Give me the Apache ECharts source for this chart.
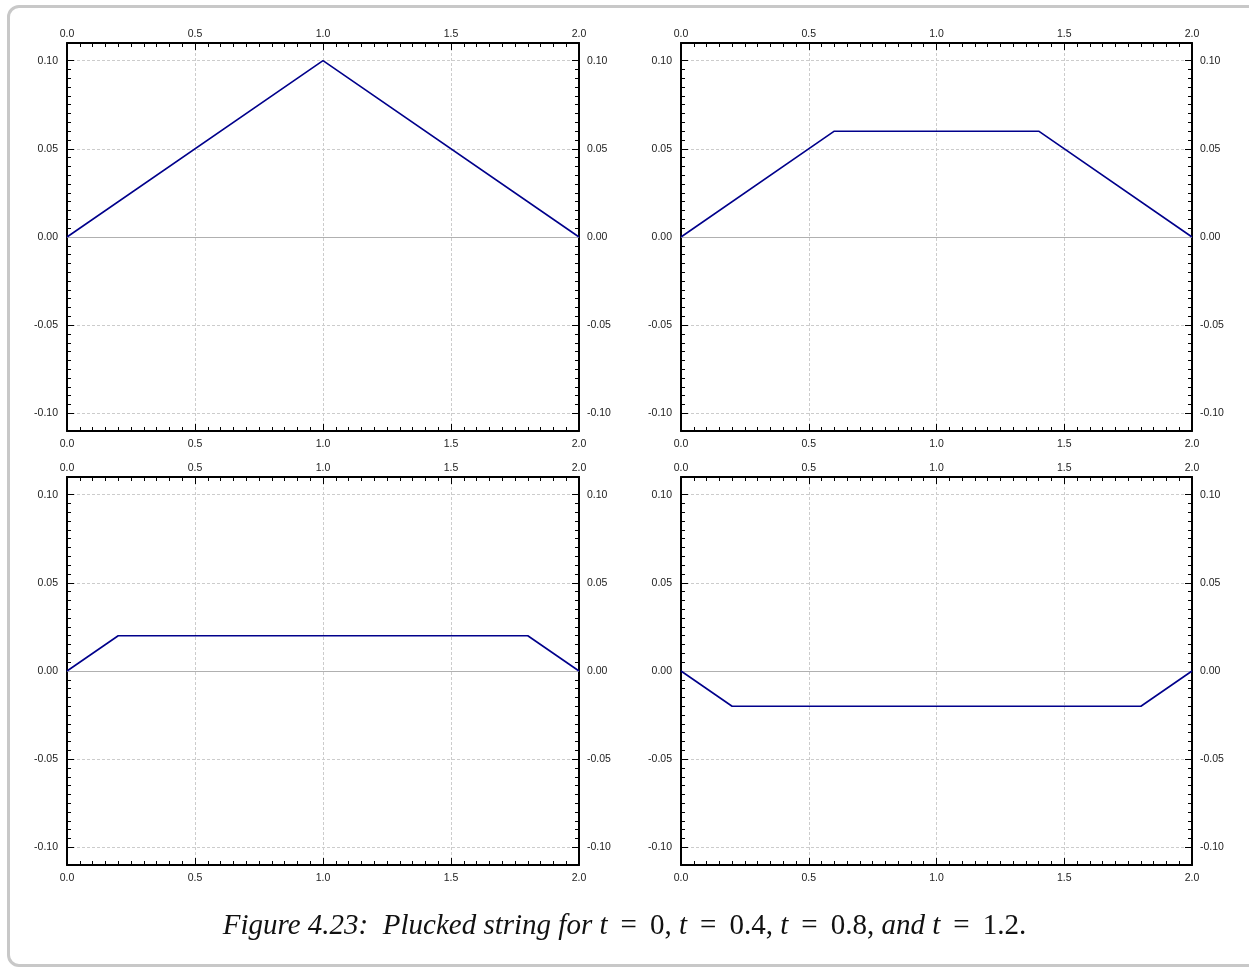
<!DOCTYPE html>
<html>
<head>
<meta charset="utf-8">
<script src="https://cdn.jsdelivr.net/npm/echarts@6/dist/echarts.min.js"></script>
<style>
html,body{margin:0;padding:0;background:#fff;width:1249px;height:968px;overflow:hidden;}
#frame{position:absolute;left:7px;top:5px;width:1260px;height:962px;border:3px solid #c8c8c8;border-radius:12px;box-sizing:border-box;}
#chart{position:absolute;left:0;top:0;width:1249px;height:968px;}
</style>
</head>
<body>
<div id="frame"></div>
<div id="chart"></div>
<script>
// Data: string displacement at x positions for each time
const xT0 = [0, 1, 2];
const yT0 = [0, 0.1, 0];
const xT04 = [0, 0.6, 1.4, 2];
const yT04 = [0, 0.06, 0.06, 0];
const xT08 = [0, 0.2, 1.8, 2];
const yT08 = [0, 0.02, 0.02, 0];
const xT12 = [0, 0.2, 1.8, 2];
const yT12 = [0, -0.02, -0.02, 0];

const yMajorTicks = [-0.10, -0.05, 0.00, 0.05, 0.10];
const yMinorTicks = [-0.095, -0.09, -0.085, -0.08, -0.075, -0.07, -0.065, -0.06, -0.055,
  -0.045, -0.04, -0.035, -0.03, -0.025, -0.02, -0.015, -0.01, -0.005,
  0.005, 0.01, 0.015, 0.02, 0.025, 0.03, 0.035, 0.04, 0.045,
  0.055, 0.06, 0.065, 0.07, 0.075, 0.08, 0.085, 0.09, 0.095];
const xMin = 0, xMax = 2, xInterval = 0.5;
const yMin = -0.11, yMax = 0.11;

const panels = [
  {xs: xT0, ys: yT0},
  {xs: xT04, ys: yT04},
  {xs: xT08, ys: yT08},
  {xs: xT12, ys: yT12}
];

const gridBoxes = [
  {left: 67, top: 43, width: 512, height: 388},
  {left: 681, top: 43, width: 511, height: 388},
  {left: 67, top: 477, width: 512, height: 388},
  {left: 681, top: 477, width: 511, height: 388}
];

const labelStyle = {fontFamily: 'Liberation Sans, Arial, sans-serif', fontSize: 10.5, color: '#222'};
const axisLine = {show: true, onZero: false, lineStyle: {color: '#000', width: 2}};
const splitDashed = {show: true, lineStyle: {color: '#cccccc', type: [3, 2], width: 1}};

const grid = [], xAxis = [], yAxis = [], series = [];
gridBoxes.forEach((b, g) => {
  // main grid index 2g, overlay grid (minor y ticks) index 2g+1
  grid.push(Object.assign({outerBoundsMode: 'none', containLabel: false}, b));
  grid.push(Object.assign({outerBoundsMode: 'none', containLabel: false}, b));
  const gm = 2 * g, go = 2 * g + 1;
  ['bottom', 'top'].forEach((pos, k) => {
    xAxis.push({
      type: 'value', gridIndex: gm, position: pos, min: xMin, max: xMax, interval: xInterval,
      axisLine: axisLine,
      axisTick: {show: true, inside: true, length: 7, lineStyle: {color: '#000', width: 1}},
      minorTick: {show: true, splitNumber: 10, length: 4, lineStyle: {color: '#000', width: 1}},
      axisLabel: Object.assign({show: true, margin: k === 0 ? 8 : 3, formatter: v => v.toFixed(1)}, labelStyle),
      splitLine: k === 0 ? splitDashed : {show: false},
      minorSplitLine: {show: false}
    });
  });
  ['left', 'right'].forEach((pos, k) => {
    yAxis.push({
      type: 'value', gridIndex: gm, position: pos, min: yMin, max: yMax,
      axisLine: axisLine,
      axisTick: {show: true, inside: true, length: 7, customValues: yMajorTicks, lineStyle: {color: '#000', width: 1}},
      axisLabel: Object.assign({show: true, margin: k === 0 ? 9 : 8, customValues: yMajorTicks, formatter: v => v.toFixed(2)}, labelStyle),
      splitLine: k === 0 ? splitDashed : {show: false}
    });
  });
  // overlay grid axes
  xAxis.push({type: 'value', gridIndex: go, min: xMin, max: xMax, show: false});
  ['left', 'right'].forEach((pos) => {
    yAxis.push({
      type: 'value', gridIndex: go, position: pos, min: yMin, max: yMax,
      axisLine: {show: false, onZero: false},
      axisTick: {show: true, inside: true, length: 4, customValues: yMinorTicks, lineStyle: {color: '#000', width: 1}},
      axisLabel: {show: false},
      splitLine: {show: false}
    });
  });
  const p = panels[g];
  series.push({
    type: 'line', xAxisIndex: g * 3, yAxisIndex: g * 4,
    data: p.xs.map((x, i) => [x, p.ys[i]]),
    symbol: 'none', silent: true, animation: false,
    lineStyle: {color: '#00008b', width: 1.6},
    markLine: {
      silent: true, symbol: 'none', animation: false, label: {show: false},
      lineStyle: {color: '#b0b0b0', type: 'solid', width: 1},
      data: [{yAxis: 0}]
    },
    z: 5
  });
});

const it = {fontFamily: 'Liberation Serif, serif', fontStyle: 'italic', fontWeight: 'normal', fontSize: 29, color: '#111'};
const rm = {fontFamily: 'Liberation Serif, serif', fontStyle: 'normal', fontWeight: 'normal', fontSize: 29, color: '#111'};

const chart = echarts.init(document.getElementById('chart'), null, {renderer: 'canvas'});
chart.setOption({
  animation: false,
  backgroundColor: 'transparent',
  grid, xAxis, yAxis, series,
  title: {
    text: '{it|Figure 4.23:  Plucked string for t}{rm| \u2009=\u2009 0, }{it|t}{rm| \u2009=\u2009 0.4, }{it|t}{rm| \u2009=\u2009 0.8, }{it|and t}{rm| \u2009=\u2009 1.2.}',
    left: 'center', top: 907,
    textStyle: {fontWeight: 'normal', rich: {it, rm}}
  }
});
</script>
</body>
</html>
